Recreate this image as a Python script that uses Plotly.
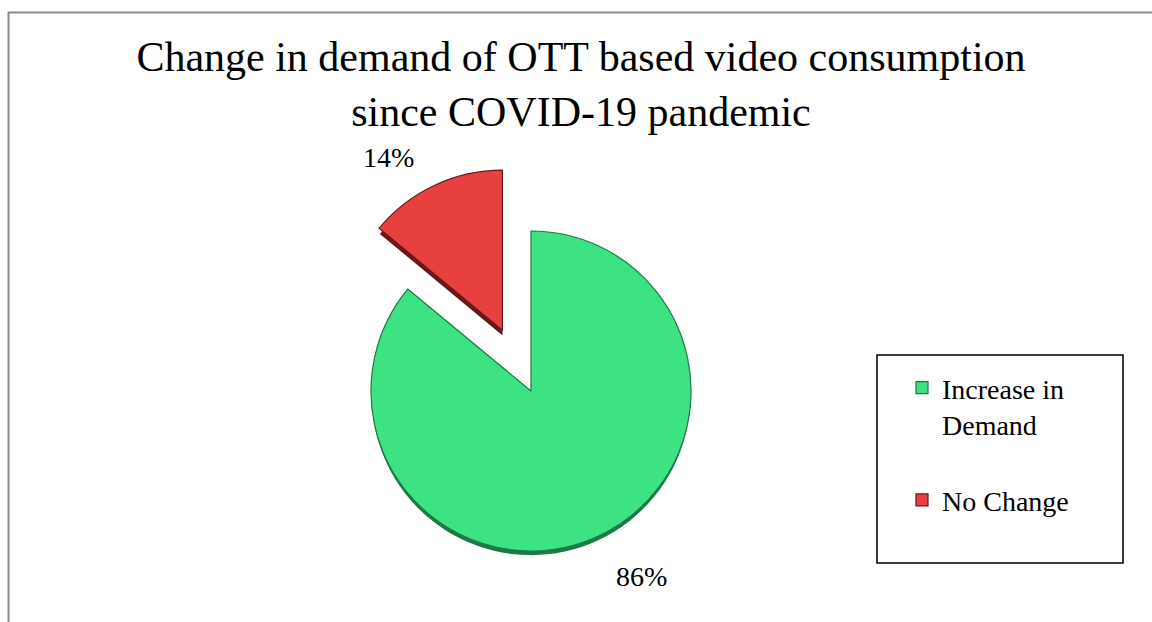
import plotly.graph_objects as go

# Survey result: change in demand of OTT video since COVID-19
categories = ["Increase in<br>Demand<br> ", "No Change"]
shares = [86, 14]
slice_colors = ["#3de283", "#e8403f"]
edge_colors = ["#1d7a44", "#6a1719"]
pull_out = [0, 0.42]

W, H = 1152, 622
SERIF = "Liberation Serif"

# pie geometry (pixels): radius, centre and depth of the dark rim
R = 160
box = 2 * R * (1 + max(pull_out))
cx, cy = 531, 391
depth = 6


def dom_x(c):
    return [(c - box / 2) / W, (c + box / 2) / W]


def dom_y(c):
    return [max(0.0, (H - c - box / 2) / H), min(1.0, (H - c + box / 2) / H)]


fig = go.Figure()

# dark copy underneath, shifted down to give the slices some thickness
fig.add_trace(go.Pie(
    labels=categories, values=shares, sort=False, direction="clockwise",
    rotation=0, pull=pull_out, textinfo="none", hoverinfo="skip",
    marker=dict(colors=edge_colors, line=dict(width=0)),
    domain=dict(x=dom_x(cx), y=dom_y(cy + depth)), showlegend=False,
))

# top face of the pie
fig.add_trace(go.Pie(
    labels=categories, values=shares, sort=False, direction="clockwise",
    rotation=0, pull=pull_out, textinfo="none",
    marker=dict(colors=slice_colors, line=dict(color=edge_colors, width=1.2)),
    domain=dict(x=dom_x(cx), y=dom_y(cy)), showlegend=True,
))

# percentage labels
label_pos = [(641, 576), (388, 157)]
annotations = []
for v, (lx, ly) in zip(shares, label_pos):
    annotations.append(dict(
        text=f"{v}%", x=lx / W, y=1 - ly / H, xref="paper", yref="paper",
        xanchor="center", yanchor="middle", showarrow=False,
        font=dict(family=SERIF, size=28, color="black"),
    ))

shapes = [
    # outer chart frame
    dict(type="rect", xref="paper", yref="paper",
         x0=8.5 / W, y0=-0.05, x1=1.05, y1=1 - 12.5 / H,
         line=dict(color="#8a8a8a", width=2), fillcolor="rgba(0,0,0,0)"),
    # legend box
    dict(type="rect", xref="paper", yref="paper",
         x0=877 / W, y0=1 - 563 / H, x1=1123 / W, y1=1 - 355 / H,
         line=dict(color="black", width=1.5), fillcolor="rgba(0,0,0,0)"),
]

fig.update_layout(
    width=W, height=H,
    margin=dict(l=0, r=0, t=0, b=0),
    paper_bgcolor="white", plot_bgcolor="white",
    font=dict(family=SERIF, color="black"),
    title=dict(
        text="Change in demand of OTT based video consumption<br>since COVID-19 pandemic",
        x=581 / W, xanchor="center", xref="paper",
        y=1 - 71 / H, yanchor="top", yref="container",
        font=dict(family=SERIF, size=42, color="black"),
    ),
    legend=dict(
        x=902 / W, xanchor="left", y=1 - 363 / H, yanchor="top",
        bgcolor="rgba(0,0,0,0)", borderwidth=0, valign="top",
        font=dict(family=SERIF, size=28, color="black"),
    ),
    annotations=annotations,
    shapes=shapes,
)

fig.write_html("out.html")
